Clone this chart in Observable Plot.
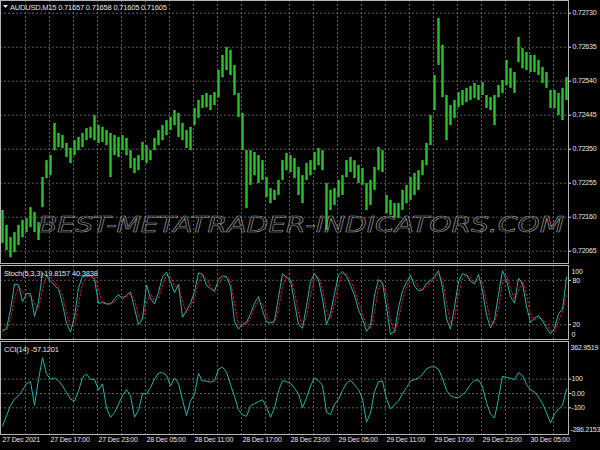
<!DOCTYPE html>
<html><head><meta charset="utf-8">
<script src="https://cdn.jsdelivr.net/npm/d3@7"></script>
<script src="https://cdn.jsdelivr.net/npm/@observablehq/plot@0.6"></script>
<style>
html,body{margin:0;padding:0;background:#000;}
#chart{position:relative;width:600px;height:450px;background:#000;overflow:hidden;}
#chart svg{position:absolute;left:0;}
</style></head><body><div id="chart"></div><script>
// ---------- data ----------
const symbolTitle = "AUDUSD,M15  0.71657 0.71658 0.71605 0.71605";
const stochTitle = "Stoch(5,3,3) 19.8157 40.3838";
const cciTitle = "CCI(14) -57.1201";
const watermark = "BEST-METATRADER-INDICATORS.COM";

const priceTicks = [0.72730,0.72635,0.72540,0.72445,0.72350,0.72255,0.72160,0.72065];
const stochTicks = [100,80,20,0];
const cciTicks = [362.9519,100,0,-100,-286.2153];
const timeLabels = ["27 Dec 2021","27 Dec 17:00","27 Dec 23:00","28 Dec 05:00","28 Dec 11:00","28 Dec 17:00",
  "28 Dec 23:00","29 Dec 05:00","29 Dec 11:00","29 Dec 17:00","29 Dec 23:00","30 Dec 05:00"];

// one entry per 30 minutes (two M15 bars)
const priceHigh = [
0.72179,0.72137,0.72103,0.72117,0.72137,0.72151,0.72156,0.72187,0.72173,0.72145,
0.72271,0.72318,0.72332,0.72422,0.72394,0.72388,0.72366,0.72352,0.72374,0.72383,
0.72394,0.72408,0.72411,0.72444,0.72416,0.72411,0.72402,0.72394,0.72388,0.72383,
0.72388,0.72380,0.72346,0.72324,0.72332,0.72369,0.72360,0.72346,0.72380,0.72402,
0.72416,0.72430,0.72439,0.72458,0.72450,0.72422,0.72402,0.72411,0.72464,0.72486,
0.72500,0.72506,0.72500,0.72508,0.72570,0.72612,0.72634,0.72626,0.72584,0.72506,
0.72450,0.72346,0.72346,0.72341,0.72332,0.72318,0.72271,0.72240,0.72235,0.72263,
0.72318,0.72338,0.72332,0.72324,0.72299,0.72276,0.72310,0.72318,0.72341,0.72352,
0.72346,0.72254,0.72235,0.72240,0.72263,0.72276,0.72318,0.72327,0.72318,0.72304,
0.72296,0.72254,0.72263,0.72299,0.72355,0.72346,0.72221,0.72207,0.72198,0.72198,
0.72235,0.72249,0.72271,0.72282,0.72290,0.72318,0.72366,0.72444,0.72556,0.72715,
0.72640,0.72500,0.72472,0.72486,0.72508,0.72514,0.72520,0.72525,0.72534,0.72528,
0.72536,0.72500,0.72494,0.72500,0.72528,0.72542,0.72598,0.72575,0.72564,0.72662,
0.72631,0.72620,0.72612,0.72612,0.72598,0.72578,0.72564,0.72514,0.72514,0.72506,
0.72520,0.72550];
const priceLow = [
0.72087,0.72067,0.72047,0.72061,0.72081,0.72103,0.72117,0.72131,0.72117,0.72095,
0.72187,0.72268,0.72276,0.72346,0.72355,0.72352,0.72327,0.72310,0.72332,0.72346,
0.72355,0.72374,0.72380,0.72374,0.72366,0.72369,0.72360,0.72271,0.72332,0.72327,
0.72346,0.72332,0.72296,0.72282,0.72290,0.72318,0.72310,0.72318,0.72346,0.72360,
0.72374,0.72388,0.72402,0.72416,0.72383,0.72374,0.72352,0.72346,0.72416,0.72436,
0.72464,0.72466,0.72458,0.72472,0.72494,0.72550,0.72570,0.72556,0.72500,0.72439,
0.72346,0.72184,0.72249,0.72276,0.72254,0.72263,0.72215,0.72198,0.72207,0.72221,
0.72263,0.72290,0.72285,0.72268,0.72221,0.72198,0.72263,0.72276,0.72290,0.72304,
0.72290,0.72123,0.72179,0.72193,0.72215,0.72221,0.72271,0.72285,0.72268,0.72254,
0.72249,0.72179,0.72193,0.72235,0.72290,0.72285,0.72170,0.72165,0.72159,0.72156,
0.72179,0.72198,0.72207,0.72221,0.72235,0.72276,0.72304,0.72360,0.72458,0.72584,
0.72494,0.72374,0.72416,0.72436,0.72466,0.72472,0.72480,0.72486,0.72492,0.72486,
0.72500,0.72464,0.72458,0.72416,0.72494,0.72506,0.72528,0.72520,0.72506,0.72592,
0.72575,0.72570,0.72564,0.72564,0.72556,0.72534,0.72520,0.72464,0.72464,0.72444,
0.72430,0.72486];

const stochMain = [11,15,40,75,74,51,62,62,31,51, 90,86,79,73,68,48,22,10,31,70,
 85,86,86,81,49,50,48,48,55,61, 55,60,64,42,20,28,74,55,48,64,
 85,91,78,63,75,30,39,49,65,90, 88,73,69,65,81,86,85,71,24,14,
 21,23,35,49,58,39,24,22,25,57, 89,84,80,50,20,15,45,78,89,81,
 55,20,35,62,87,92,85,73,60,40, 28,11,19,60,81,76,44,7,11,43,
 66,77,87,72,66,67,76,79,85,93, 70,28,14,44,78,89,87,79,75,88,
 66,33,16,27,61,93,80,58,49,83, 75,45,23,29,32,25,15,8,15,35, 41,84];
const stochSignal = [14,13,27,55,72,64,58,60,48,42, 68,86,84,77,71,60,36,18,20,48,
 76,84,86,84,66,51,49,48,51,57, 58,58,61,54,32,26,50,62,52,56,
 74,87,85,72,70,52,36,44,57,77, 88,81,72,67,73,83,85,79,48,20,
 18,21,29,42,53,48,32,23,23,40, 72,85,82,65,36,19,30,61,82,84,
 68,38,28,48,74,89,88,80,67,50, 34,20,15,38,70,78,60,26,9,27,
 54,71,82,80,70,67,71,77,82,89, 81,50,22,29,61,83,88,83,77,81,
 77,50,25,22,43,77,86,69,54,65, 79,60,34,26,30,28,20,12,11,25, 38,62];
const cciValues = [-228,-156,-85,-39,-16,21,69,83,-83,97, 250,138,99,108,90,53,7,-39,-53,16,
 113,136,99,99,25,67,-101,-166,-133,-74, -14,28,-16,-166,-117,0,-2,41,101,143,
 145,126,53,108,71,-46,-154,-51,-7,140, 87,87,80,87,170,184,149,62,-21,-113,
 -149,-159,-85,-71,-57,-44,-94,-166,-101,18, 90,83,71,37,-2,-99,-30,53,108,90,
 57,-131,-147,-76,-41,21,71,92,60,28, -37,-200,-136,14,83,87,-39,-108,-78,-53,
 0,41,87,97,108,133,172,186,186,170, 106,21,-16,-28,-28,-9,18,64,92,94,
 46,-64,-143,-172,-34,120,113,106,97,145, 126,62,25,11,-25,-69,-133,-205,-143,-108, -83,30];

// ---------- derived tables ----------
const bars = priceHigh.map((h, i) => ({b: 2 * i + 0.5, hi: h, lo: priceLow[i]}));
const stoch = stochMain.map((m, i) => ({b: 2 * i + 0.5, main: m, sig: stochSignal[i]}));
const cci = cciValues.map((v, i) => ({b: 2 * i + 0.5, v}));
const gridBars = d3.range(12, 284, 12);
const timeTicks = timeLabels.map((_, i) => i * 24);

const FONT = '"Liberation Sans",Arial,sans-serif';
const GRID = "#5c5c5c";
const FRAME = "#b4b4b4";
const TEAL = "#20b2aa";
const TXT = "#e6e6e6";
const common = {
  width: 600, marginLeft: 0, marginRight: 32,
  x: {domain: [-0.5, 283.5], axis: null},
  style: {background: "transparent", color: TXT, fontFamily: FONT, fontSize: "7px", letterSpacing: "-0.2px", overflow: "visible"}
};
const gridX = Plot.ruleX(gridBars, {stroke: GRID, strokeDasharray: "2,2"});

const pricePlot = Plot.plot({
  ...common, height: 264, marginTop: 0, marginBottom: 1,
  y: {domain: [0.720307, 0.727655], axis: null},
  marks: [
    Plot.ruleY(priceTicks, {stroke: GRID, strokeDasharray: "2,2"}),
    gridX,
    Plot.ruleX(bars, {x: "b", y1: "lo", y2: "hi", stroke: "#118a11", strokeWidth: 3}),
    Plot.ruleX(bars, {x: "b", y1: "lo", y2: "hi", stroke: "#2cc42c", strokeWidth: 1.2}),
    Plot.axisY(priceTicks, {anchor: "right", label: null, tickSize: 2, tickPadding: 2, tickFormat: d => d.toFixed(5)}),
    Plot.frame({stroke: FRAME})
  ]
});

const stochPlot = Plot.plot({
  ...common, height: 76, marginTop: 1, marginBottom: 1,
  y: {domain: [0, 100], axis: null},
  marks: [
    Plot.ruleY([80, 20], {stroke: GRID, strokeDasharray: "2,2"}),
    gridX,
    Plot.line(stoch, {x: "b", y: "sig", stroke: "#e01010", strokeWidth: 1, strokeDasharray: "2,2"}),
    Plot.line(stoch, {x: "b", y: "main", stroke: TEAL, strokeWidth: 1}),
    Plot.axisY(stochTicks.slice(1, 3), {anchor: "right", label: null, tickSize: 2, tickPadding: 2}),
    Plot.axisY(stochTicks.slice(0, 1), {anchor: "right", label: null, tickSize: 0, tickPadding: 3, dy: 6}),
    Plot.axisY(stochTicks.slice(3), {anchor: "right", label: null, tickSize: 0, tickPadding: 3, dy: -5}),
    Plot.frame({stroke: FRAME})
  ]
});

const cciFmt = d => d === 0 ? "0.00" : Math.abs(d) === 100 ? String(d) : d.toFixed(4);
const cciPlot = Plot.plot({
  ...common, height: 110, marginTop: 1, marginBottom: 16,
  y: {domain: [cciTicks[4], cciTicks[0]], axis: null},
  marks: [
    Plot.ruleY(cciTicks.slice(1, 4), {stroke: GRID, strokeDasharray: "2,2"}),
    gridX,
    Plot.line(cci, {x: "b", y: "v", stroke: TEAL, strokeWidth: 1}),
    Plot.axisY(cciTicks.slice(1, 4), {anchor: "right", label: null, tickSize: 2, tickPadding: 1, tickFormat: cciFmt}),
    Plot.axisY(cciTicks.slice(0, 1), {anchor: "right", label: null, tickSize: 0, tickPadding: 2, dy: 6, tickFormat: cciFmt}),
    Plot.axisY(cciTicks.slice(4), {anchor: "right", label: null, tickSize: 0, tickPadding: 2, dy: -5, tickFormat: cciFmt}),
    Plot.axisX(timeTicks, {anchor: "bottom", label: null, tickSize: 0, tickPadding: 3, textAnchor: "start", dx: 1,
      tickFormat: d => timeLabels[d / 24]}),
    Plot.frame({stroke: FRAME})
  ]
});

const chart = document.getElementById("chart");
[[pricePlot, 0], [stochPlot, 264], [cciPlot, 340]].forEach(([svg, top]) => {
  svg.style.top = top + "px";
  chart.appendChild(svg);
});

// overlay: titles and watermark
const ov = d3.select(chart).append("svg").attr("width", 600).attr("height", 450).style("top", "0px")
  .style("font-family", FONT).style("letter-spacing", "-0.2px").style("pointer-events", "none");
ov.append("text").attr("x", 38).attr("y", 232).text(watermark)
  .attr("textLength", 526).attr("lengthAdjust", "spacingAndGlyphs").style("letter-spacing", "0px")
  .attr("font-family", '"DejaVu Sans",sans-serif').attr("font-size", 22).attr("font-style", "italic")
  .attr("fill", "none").attr("stroke", "#9a9a9a").attr("stroke-width", 0.6);
ov.append("path").attr("d", "M3,5 L8,5 L5.5,8 Z").attr("fill", TXT);
ov.append("text").attr("x", 10).attr("y", 10).attr("font-size", 7.5).attr("fill", TXT).text(symbolTitle);
ov.append("text").attr("x", 4).attr("y", 275.5).attr("font-size", 7.5).attr("fill", TXT).text(stochTitle);
ov.append("text").attr("x", 4).attr("y", 351.5).attr("font-size", 7.5).attr("fill", TXT).text(cciTitle);
</script></body></html>
